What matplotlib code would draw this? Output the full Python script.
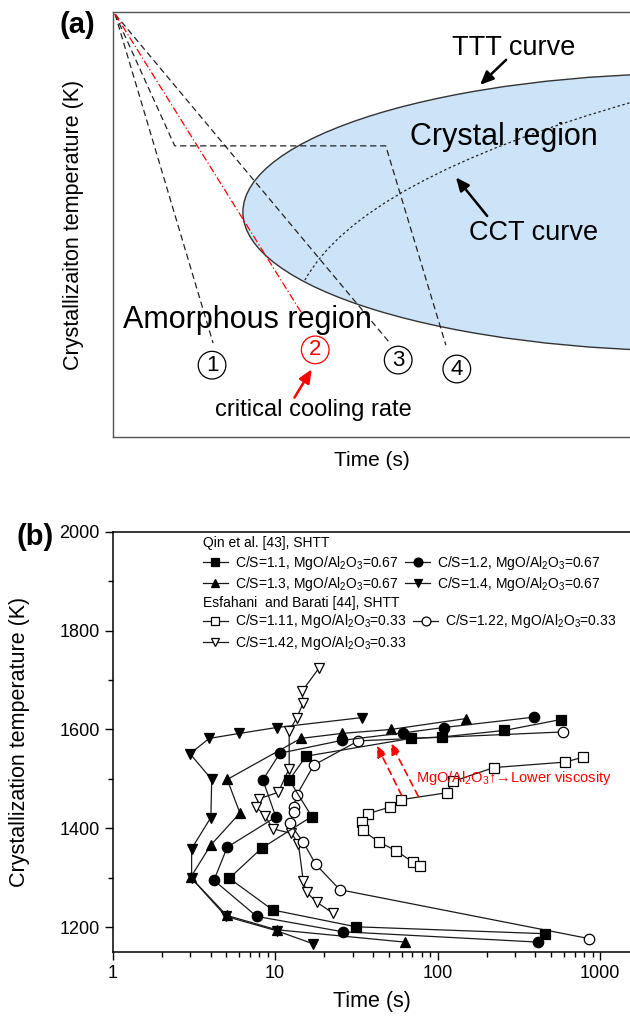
import numpy as np
import matplotlib
matplotlib.use("Agg")
import matplotlib.pyplot as plt
from matplotlib.patches import Ellipse, PathPatch
from matplotlib.path import Path
from matplotlib.lines import Line2D
from matplotlib.ticker import FixedLocator, NullFormatter, FuncFormatter, MultipleLocator

plt.rcParams['font.family'] = ['Liberation Sans', 'DejaVu Sans']
plt.rcParams['mathtext.fontset'] = 'custom'
plt.rcParams['mathtext.rm'] = 'Liberation Sans'
plt.rcParams['mathtext.it'] = 'Liberation Sans:italic'

# ---------------- panel (a): schematic, axis units 0..100 ----------------
start_pt = [0.5, 99.5]
path1 = [start_pt, [19.4, 22.1]]
path2 = [start_pt, [36.7, 28.7]]          # critical cooling rate (red)
path3 = [start_pt, [53.5, 22.1]]
path4 = [start_pt, [12.0, 68.5], [52.7, 68.5], [64.3, 21.6]]
circ_labels = ['1', '2', '3', '4']
circ_x = [19.2, 39.1, 55.1, 66.4]
circ_y = [16.9, 20.5, 18.1, 16.0]
circ_col = ['black', 'red', 'black', 'black']

ttt_center = [113.3, 52.9]
ttt_size = [176.3, 65.4]
cct_ctrl = [[37.1, 36.9], [47.7, 60.5], [100.5, 78.9]]

# ---------------- panel (b): data (time s, temperature K) ----------------
qin_11_t = [571, 257, 107, 68.5, 15.5, 12.2, 16.8, 8.26, 5.22, 9.66, 31.4, 458]
qin_11_T = [1620, 1598, 1585, 1582, 1546, 1498, 1424, 1360, 1299, 1235, 1201, 1187]
qin_12_t = [393, 109, 61, 25.7, 10.7, 8.4, 10.1, 5.07, 4.2, 7.7, 26, 416]
qin_12_T = [1625, 1604, 1593, 1578, 1552, 1498, 1423, 1362, 1295, 1222, 1191, 1170]
qin_13_t = [149, 51.4, 25.7, 14.4, 5.07, 6.07, 4.01, 3.02, 5.03, 10.2, 62.9]
qin_13_T = [1622, 1600, 1592, 1582, 1499, 1431, 1366, 1301, 1224, 1195, 1170]
qin_14_t = [34.1, 10.2, 6.01, 3.93, 2.99, 4.07, 4.02, 3.06, 3.06, 4.98, 10.2, 17.0]
qin_14_T = [1624, 1604, 1592, 1582, 1551, 1499, 1422, 1359, 1299, 1222, 1193, 1167]
esf_111_t = [787, 607, 222, 124, 113.6, 59.5, 50.9, 37.4, 34.1, 34.5, 43.7, 55.4, 70.2, 77.8]
esf_111_T = [1544, 1534, 1523, 1495, 1472, 1458, 1443, 1430, 1412, 1396, 1372, 1355, 1332, 1323]
esf_122_t = [588, 32.5, 17.3, 13.6, 13.0, 13.0, 12.3, 14.9, 17.8, 25, 857]
esf_122_T = [1595, 1577, 1528, 1468, 1443, 1434, 1410, 1372, 1327, 1276, 1177]
esf_142_t = [18.7, 14.6, 14.9, 13.6, 12.2, 12.2, 10.45, 7.98, 7.62, 8.66, 9.66, 12.6, 13.9,
             14.9, 15.6, 18.0, 22.8]
esf_142_T = [1725, 1677, 1654, 1624, 1597, 1521, 1473, 1460, 1443, 1426, 1399, 1390, 1369,
             1293, 1271, 1251, 1228]

qin_labels = [r'C/S=1.1, MgO/Al$_2$O$_3$=0.67', r'C/S=1.2, MgO/Al$_2$O$_3$=0.67',
              r'C/S=1.3, MgO/Al$_2$O$_3$=0.67', r'C/S=1.4, MgO/Al$_2$O$_3$=0.67']
esf_labels = [r'C/S=1.11, MgO/Al$_2$O$_3$=0.33', r'C/S=1.22, MgO/Al$_2$O$_3$=0.33',
              r'C/S=1.42, MgO/Al$_2$O$_3$=0.33']

arrow_from_t = [60, 76]
arrow_from_T = [1467, 1465]
arrow_to_t = [42.2, 51.4]
arrow_to_T = [1568, 1573]

fig = plt.figure(figsize=(6.3, 10.19), dpi=100)

# ---------------- panel (a) ----------------
axa = fig.add_axes([112.5 / 630, 1 - 437 / 1019, 518.5 / 630, 425 / 1019])
axa.set_xlim(0, 100)
axa.set_ylim(0, 100)
axa.set_xticks([])
axa.set_yticks([])
for sp in axa.spines.values():
    sp.set_color('#555555')
    sp.set_linewidth(1.0)

axa.add_patch(Ellipse(ttt_center, ttt_size[0], ttt_size[1], fc='#cde4f8', ec='#333333', lw=1.0, zorder=1))
cct = Path(cct_ctrl, [Path.MOVETO, Path.CURVE3, Path.CURVE3])
axa.add_patch(PathPatch(cct, fc='none', ec='#222222', lw=0.9, ls=(0, (2, 2)), zorder=2))

for p in [path1, path3, path4]:
    p = np.array(p)
    axa.plot(p[:, 0], p[:, 1], color='#222222', lw=0.9, ls=(0, (5, 3)), zorder=3)
p = np.array(path2)
axa.plot(p[:, 0], p[:, 1], color='red', lw=0.9, ls=(0, (6, 2, 1, 2)), zorder=3)

for lab, x, y, c in zip(circ_labels, circ_x, circ_y, circ_col):
    axa.text(x, y, lab, fontsize=16, color=c, ha='center', va='center', zorder=5,
             bbox=dict(boxstyle='circle,pad=0.15', fc='white', ec=c, lw=0.9))

axa.text(77.4, 91.5, 'TTT curve', fontsize=19.5, ha='center', va='center')
axa.annotate('', xy=(70.5, 82.4), xytext=(76.3, 89.2),
             arrowprops=dict(arrowstyle='-|>,head_length=0.8,head_width=0.35', color='black', lw=1.8))
axa.text(75.5, 70.6, 'Crystal region', fontsize=22, ha='center', va='center', zorder=4)
axa.text(81.3, 48.0, 'CCT curve', fontsize=19.5, ha='center', va='center', zorder=4)
axa.annotate('', xy=(65.9, 61.6), xytext=(72.6, 51.5),
             arrowprops=dict(arrowstyle='-|>,head_length=0.8,head_width=0.35', color='black', lw=1.8))
axa.text(26.0, 27.5, 'Amorphous region', fontsize=22, ha='center', va='center', zorder=4)
axa.text(38.7, 6.4, 'critical cooling rate', fontsize=17, ha='center', va='center')
axa.annotate('', xy=(38.7, 16.5), xytext=(34.8, 8.7),
             arrowprops=dict(arrowstyle='-|>,head_length=0.8,head_width=0.35', color='red', lw=1.8))
axa.set_xlabel('Time (s)', fontsize=15, labelpad=10)
axa.set_ylabel('Crystallizaiton temperature (K)', fontsize=15.5)
axa.yaxis.set_label_coords(-0.055, 0.5)
fig.text(77 / 630, 1 - 25 / 1019, '(a)', fontsize=21, fontweight='bold', ha='center', va='center')

# ---------------- panel (b) ----------------
axb = fig.add_axes([112.7 / 630, 1 - 952 / 1019, 518.3 / 630, 420.3 / 1019])
axb.set_xscale('log')
axb.set_xlim(1, 1550)
axb.set_ylim(1150, 2000)

ms = 7.5
kw = dict(color='#1a1a1a', lw=0.9, mec='black', mew=0.9, ms=ms)
series = [
    (esf_142_t, esf_142_T, 'v', 'white'),
    (esf_122_t, esf_122_T, 'o', 'white'),
    (esf_111_t, esf_111_T, 's', 'white'),
    (qin_14_t, qin_14_T, 'v', 'black'),
    (qin_13_t, qin_13_T, '^', 'black'),
    (qin_12_t, qin_12_T, 'o', 'black'),
    (qin_11_t, qin_11_T, 's', 'black'),
]
for t, T, m, fc in series:
    axb.plot(t, T, marker=m, mfc=fc, **kw)

for x0, y0, x1, y1 in zip(arrow_from_t, arrow_from_T, arrow_to_t, arrow_to_T):
    axb.annotate('', xy=(x1, y1), xytext=(x0, y0),
                 arrowprops=dict(arrowstyle='-|>,head_length=0.7,head_width=0.3', color='red',
                                 lw=1.2, ls=(0, (4, 3)), shrinkA=0, shrinkB=0))
axb.text(73.2, 1501, 'MgO/Al$_2$O$_3$\u2191\u2192Lower viscosity', color='red',
         fontsize=10.5, ha='left', va='center')

# legend
h_qin = [Line2D([], [], marker=m, mfc=fc, **kw) for m, fc in
         [('s', 'black'), ('^', 'black'), ('o', 'black'), ('v', 'black')]]
l_qin = [qin_labels[0], qin_labels[2], qin_labels[1], qin_labels[3]]
h_esf = [Line2D([], [], marker=m, mfc='white', **kw) for m in ['s', 'v', 'o']]
l_esf = [esf_labels[0], esf_labels[2], esf_labels[1]]
legkw = dict(ncol=2, frameon=False, fontsize=10, handlelength=1.8, handletextpad=0.5,
             columnspacing=0.5, labelspacing=0.25, borderpad=0, borderaxespad=0, markerscale=0.85,
             loc='upper left')
leg1 = axb.legend(h_qin, l_qin, bbox_to_anchor=(0.174, 0.948), **legkw)
axb.add_artist(leg1)
axb.legend(h_esf, l_esf, bbox_to_anchor=(0.174, 0.808), **legkw)
axb.text(0.174, 0.973, 'Qin et al. [43], SHTT', transform=axb.transAxes, fontsize=10, va='center')
axb.text(0.174, 0.831, 'Esfahani  and Barati [44], SHTT', transform=axb.transAxes, fontsize=10,
         va='center')

axb.yaxis.set_major_locator(MultipleLocator(200))
axb.yaxis.set_minor_locator(MultipleLocator(100))
axb.xaxis.set_major_locator(FixedLocator([1, 10, 100, 1000]))
axb.xaxis.set_major_formatter(FuncFormatter(lambda v, p: '%d' % v))
axb.xaxis.set_minor_formatter(NullFormatter())
axb.tick_params(which='major', direction='out', length=6, width=1, labelsize=13)
axb.tick_params(which='minor', direction='out', length=3.5, width=1)
for sp in axb.spines.values():
    sp.set_linewidth(1.1)
axb.set_xlabel('Time (s)', fontsize=15.5, va='center')
axb.xaxis.set_label_coords(0.5, -0.118)
axb.set_ylabel('Crystallization temperature (K)', fontsize=15.5)
axb.yaxis.set_label_coords(-0.16, 0.5)
fig.text(35 / 630, 1 - 537 / 1019, '(b)', fontsize=21, fontweight='bold', ha='center', va='center')

fig.savefig('out.png', dpi=100)
